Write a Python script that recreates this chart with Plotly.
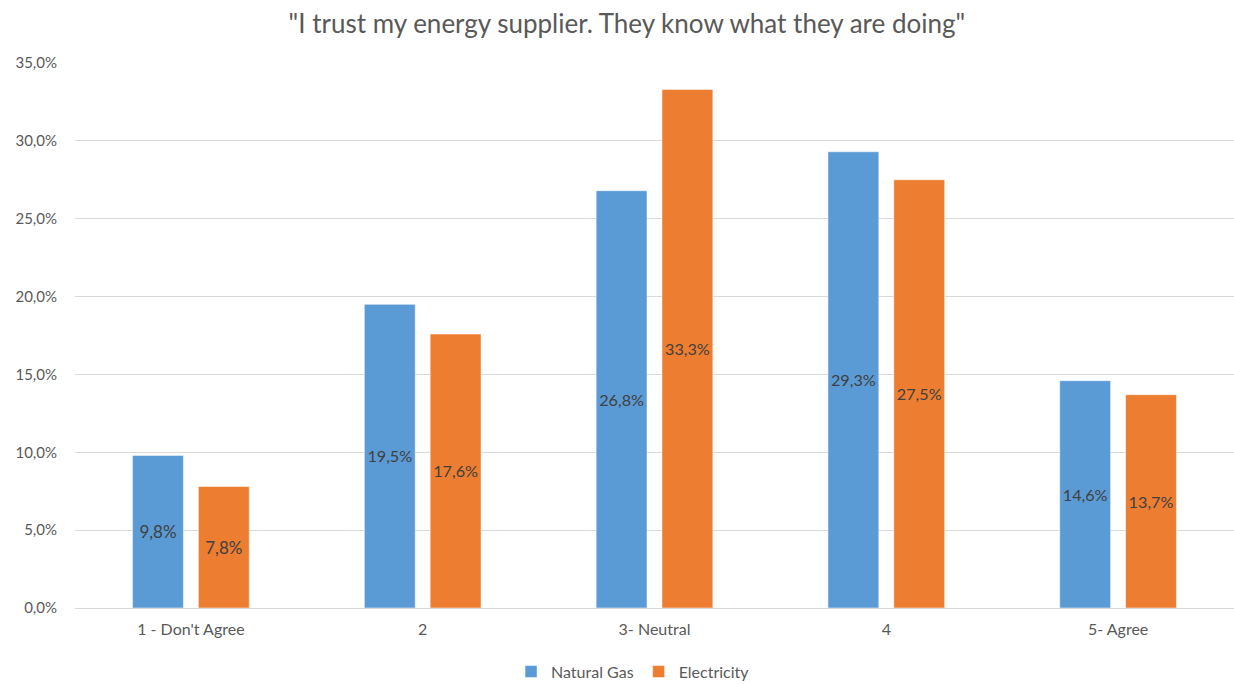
import plotly.graph_objects as go

categories = ["1 - Don't Agree", "2", "3- Neutral", "4", "5- Agree"]
natural_gas = [9.8, 19.5, 26.8, 29.3, 14.6]
electricity = [7.8, 17.6, 33.3, 27.5, 13.7]
y_ticks = [0, 5, 10, 15, 20, 25, 30, 35]
y_tick_text = [f"{v:.1f}%".replace(".", ",") for v in y_ticks]

FONT = "Lato"
BLUE = "#5B9BD5"
ORANGE = "#ED7D31"

fig = go.Figure()
for name, vals, color in [("Natural Gas", natural_gas, BLUE), ("Electricity", electricity, ORANGE)]:
    fig.add_trace(go.Bar(
        x=categories, y=vals, name=name,
        marker=dict(color=color, line=dict(color="rgba(255,255,255,0.5)", width=1)),
        texttemplate="%{y:.1f}%", textposition="inside", insidetextanchor="middle",
        textangle=0,
        textfont=dict(family=FONT, size=17, color="#404040"),
        cliponaxis=False,
    ))

fig.update_layout(
    width=1234, height=684,
    margin=dict(l=75, r=0, t=63, b=76),
    paper_bgcolor="white", plot_bgcolor="white",
    separators=", ",
    barmode="group", bargap=0.432, bargroupgap=0.227,
    title=dict(text='"I trust my energy supplier. They know what they are doing"',
               x=0.508, xanchor="center", y=0.965, yanchor="middle",
               font=dict(family=FONT, size=26, color="#595959")),
    font=dict(family=FONT, color="#595959", size=15),
    legend=dict(orientation="h", x=0.513, xref="container", xanchor="center",
                y=0.018, yref="container", yanchor="middle",
                font=dict(family=FONT, size=16, color="#595959"),
                itemwidth=30, traceorder="normal"),
)
fig.update_xaxes(showgrid=False, showline=False, ticks="", tickfont=dict(size=16, color="#595959"),
                 ticklabelstandoff=10)
fig.update_yaxes(range=[0, 35], tickvals=y_ticks, ticktext=y_tick_text,
                 showgrid=True, gridcolor="#D9D9D9", gridwidth=1,
                 zeroline=True, zerolinecolor="#D9D9D9", zerolinewidth=1,
                 tickfont=dict(size=15, color="#595959"), ticklabelstandoff=17)

fig.write_html("out.html")
